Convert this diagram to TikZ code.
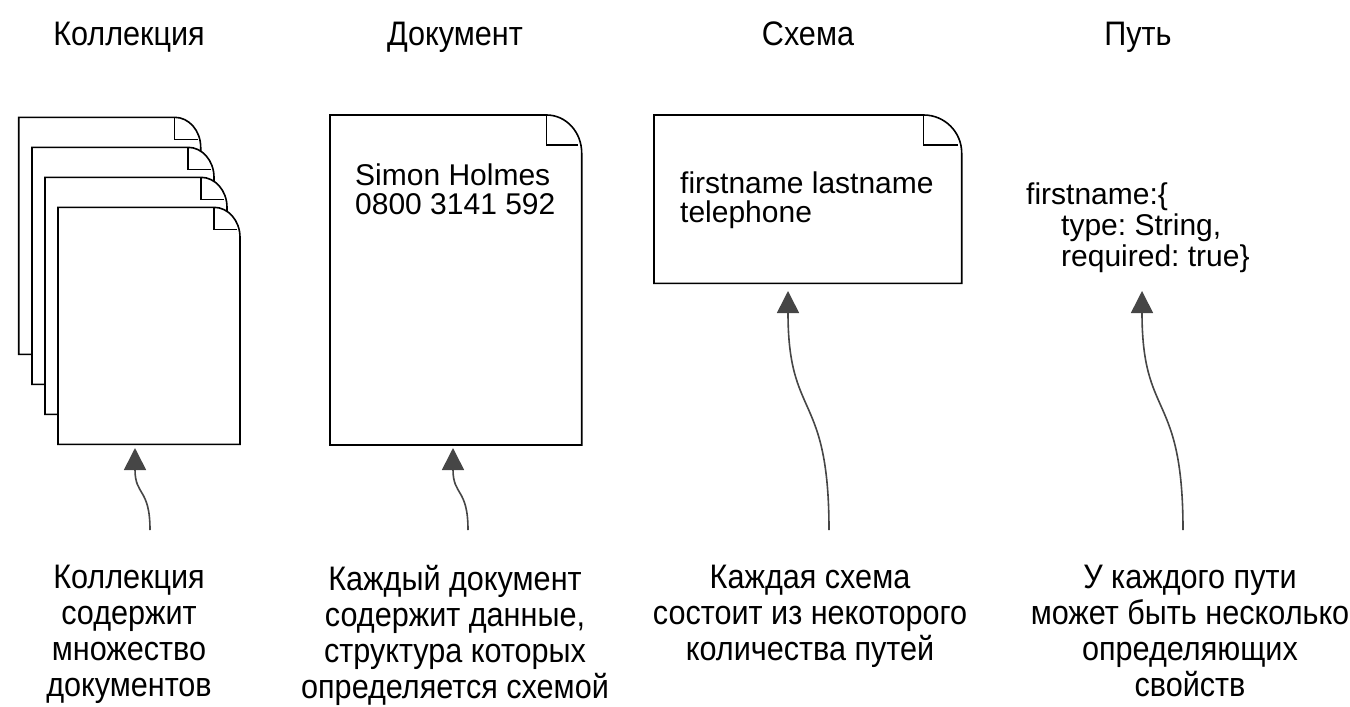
\documentclass[tikz,border=0pt]{standalone}
\usepackage{fontspec}
\setmainfont{Liberation Sans}
\newfontfamily\condfont[FakeStretch=0.9]{Liberation Sans}
\usetikzlibrary{arrows.meta}
\definecolor{arrowgray}{HTML}{464646}
\tikzset{
  pageline/.style={draw=black, fill=white, line width=1.6pt, line join=miter},
  foldline/.style={draw=black, line width=1.3pt},
  conn/.style={draw=arrowgray, line width=1.6pt, -{Triangle[width=22pt,length=22pt]}},
  titletext/.style={inner sep=0pt, anchor=base, font=\condfont\fontsize{34}{36}\selectfont},
  labeltext/.style={inner sep=0pt, anchor=north, align=center, font=\condfont\fontsize{34}{36}\selectfont},
  boxtext/.style={inner sep=0pt, anchor=north west, align=left},
}
% #1 L, #2 T, #3 R, #4 B, #5 corner width, #6 corner height, #7 fold depth
\newcommand\mypage[7]{%
  \path[pageline] (#1,#2) -- ({#3-#5},#2)
     .. controls ({#3-#5+0.552*#5},#2) and (#3,{#2+#6-0.552*#6}) .. (#3,{#2+#6})
     -- (#3,#4) -- (#1,#4) -- cycle;
  \draw[foldline] ({#3-#5},#2) -- ({#3-#5},{#2+#7}) -- ({#3-0.1*#5},{#2+#7});
}
\begin{document}
\frenchspacing
\begin{tikzpicture}[x=1pt,y=-1pt]
\useasboundingbox (0,0) rectangle (1350,707);

% titles
\node[titletext] (tcol) at (129,45) {Коллекция};
\node[titletext] (tdoc) at (455,45) {Документ};
\node[titletext] (tsch) at (808,45) {Схема};
\node[titletext] (tpath) at (1138,45) {Путь};

% collection stack
\mypage{18.7}{117.3}{200.7}{354.3}{26}{30}{22}
\mypage{32}{147.3}{214}{384.3}{26}{30}{22}
\mypage{45}{177.3}{227}{414.3}{26}{30}{22}
\mypage{58}{207.3}{240}{444.3}{26}{30}{22}

% document
\mypage{330}{115}{581.7}{445}{35}{38}{30}
\node[boxtext, font=\fontsize{30}{29}\selectfont] (doctext) at (355,164)
  {Simon Holmes\\0800 3141 592};

% schema
\mypage{654}{115}{961.7}{283.3}{38}{38}{30}
\node[boxtext, font=\fontsize{30}{29}\selectfont] (schtext) at (680,172)
  {firstname lastname\\telephone};

% path
\node[boxtext, font=\fontsize{30}{31}\selectfont] (pathtext) at (1026,183)
  {firstname:\{\\\hspace*{35pt}type: String,\\\hspace*{35pt}required: true\}};

% bottom labels
\node[labeltext] (lcol) at (129,565) {Коллекция\\содержит\\множество\\документов};
\node[labeltext] (ldoc) at (455,565) {Каждый документ\\содержит данные,\\структура которых\\определяется схемой};
\node[labeltext] (lsch) at (810,565) {Каждая схема\\состоит из некоторого\\количества путей};
\node[labeltext] (lpath) at (1190,565) {У каждого пути\\может быть несколько\\определяющих\\свойств};

% connector ends
\coordinate (colTail) at (150,530);   \coordinate (colTip) at (135,448);
\coordinate (docTail) at (468,530);   \coordinate (docTip) at (453,448);
\coordinate (schTail) at (829,530);   \coordinate (schTip) at (788,291);
\coordinate (pathTail) at (1183,530); \coordinate (pathTip) at (1142,291);

\draw[conn] (colTail) .. controls +(0,-42) and +(0,48) .. (colTip);
\draw[conn] (docTail) .. controls +(0,-42) and +(0,48) .. (docTip);
\draw[conn] (schTail) .. controls +(0,-140) and +(0,130) .. (schTip);
\draw[conn] (pathTail) .. controls +(0,-140) and +(0,130) .. (pathTip);
\end{tikzpicture}
\end{document}
